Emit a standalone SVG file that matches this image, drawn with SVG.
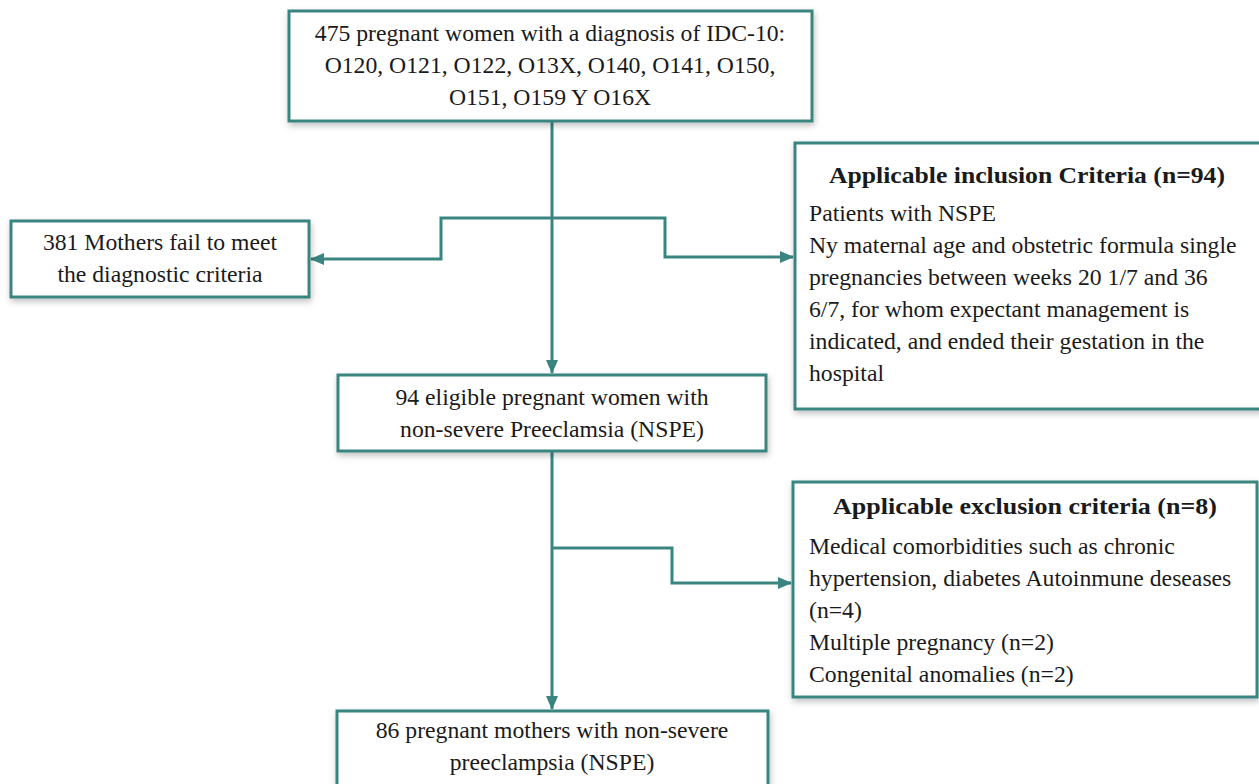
<svg xmlns="http://www.w3.org/2000/svg" width="1259" height="784" viewBox="0 0 1259 784">
<defs>
<filter id="sh" x="-10%" y="-10%" width="120%" height="130%">
<feDropShadow dx="1" dy="3" stdDeviation="3" flood-color="#000" flood-opacity="0.25"/>
</filter>
<marker id="ah" viewBox="0 0 14 12" refX="13" refY="6" markerWidth="14" markerHeight="12" markerUnits="userSpaceOnUse" orient="auto">
<path d="M0,0 L14,6 L0,12 Z" fill="#3a8580"/>
</marker>
<style>
.box{fill:#fff;stroke:#3a8580;stroke-width:3;filter:url(#sh)}
.t{font-family:"Liberation Serif","Times New Roman",serif;font-size:23.7px;fill:#1a1a1a}
.c{text-anchor:middle}
.b{font-weight:bold;font-size:24px}
.ln{fill:none;stroke:#3a8580;stroke-width:3}
</style>
</defs>
<rect width="1259" height="784" fill="#fff"/>
<g id="connectors">
<path class="ln" d="M552,121 V373" marker-end="url(#ah)"/>
<path class="ln" d="M552,218 H441 V259 H311" marker-end="url(#ah)"/>
<path class="ln" d="M552,218 H665 V257 H793" marker-end="url(#ah)"/>
<path class="ln" d="M552,451 V709" marker-end="url(#ah)"/>
<path class="ln" d="M552,548 H672 V583 H791" marker-end="url(#ah)"/>
</g>
<g id="n1">
<rect class="box" x="289" y="11" width="523" height="110"/>
<text class="t c" x="550" y="41">475 pregnant women with a diagnosis of IDC-10:</text>
<text class="t c" x="550" y="73">O120, O121, O122, O13X, O140, O141, O150,</text>
<text class="t c" x="550" y="105">O151, O159 Y O16X</text>
</g>
<g id="n2">
<rect class="box" x="11" y="221" width="298" height="76"/>
<text class="t c" x="160" y="250">381 Mothers fail to meet</text>
<text class="t c" x="160" y="282">the diagnostic criteria</text>
</g>
<g id="n3">
<rect class="box" x="795" y="143" width="468" height="266"/>
<text class="t c b" x="1027" y="183" textLength="396" lengthAdjust="spacingAndGlyphs">Applicable inclusion Criteria (n=94)</text>
<text class="t" x="809" y="221">Patients with NSPE</text>
<text class="t" x="809" y="253">Ny maternal age and obstetric formula single</text>
<text class="t" x="809" y="285">pregnancies between weeks 20 1/7 and 36</text>
<text class="t" x="809" y="317">6/7, for whom expectant management is</text>
<text class="t" x="809" y="349">indicated, and ended their gestation in the</text>
<text class="t" x="809" y="381">hospital</text>
</g>
<g id="n4">
<rect class="box" x="338" y="375" width="428" height="76"/>
<text class="t c" x="552" y="405">94 eligible pregnant women with</text>
<text class="t c" x="552" y="437">non-severe Preeclamsia (NSPE)</text>
</g>
<g id="n5">
<rect class="box" x="793" y="482" width="464" height="215"/>
<text class="t c b" x="1025" y="514" textLength="384" lengthAdjust="spacingAndGlyphs">Applicable exclusion criteria (n=8)</text>
<text class="t" x="809" y="554">Medical comorbidities such as chronic</text>
<text class="t" x="809" y="586">hypertension, diabetes Autoinmune deseases</text>
<text class="t" x="809" y="618">(n=4)</text>
<text class="t" x="809" y="650">Multiple pregnancy (n=2)</text>
<text class="t" x="809" y="682">Congenital anomalies (n=2)</text>
</g>
<g id="n6">
<rect class="box" x="337" y="711" width="431" height="80"/>
<text class="t c" x="552" y="738">86 pregnant mothers with non-severe</text>
<text class="t c" x="552" y="770">preeclampsia (NSPE)</text>
</g>
</svg>
